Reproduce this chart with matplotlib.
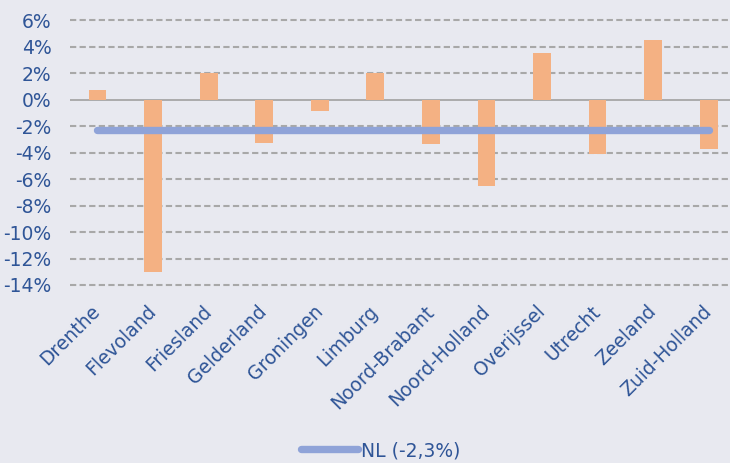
import numpy as np
from matplotlib import pyplot as plt

provinces = ["Drenthe", "Flevoland", "Friesland", "Gelderland", "Groningen", "Limburg",
             "Noord-Brabant", "Noord-Holland", "Overijssel", "Utrecht", "Zeeland", "Zuid-Holland"]
change = [0.76, -13.05, 2.0, -3.23, -0.88, 2.05, -3.33, -6.5, 3.55, -4.1, 4.55, -3.75]
nl_value = -2.3
nl_label = "NL (-2,3%)"
yticks = [6, 4, 2, 0, -2, -4, -6, -8, -10, -12, -14]

bg = "#E8E9F0"
text_col = "#2F5597"

plt.rcParams["font.family"] = ["DejaVu Sans"]

fig = plt.figure(figsize=(7.3, 4.63), dpi=100, facecolor=bg)
ax = fig.add_axes([69.7 / 730, 1 - 285 / 463, 666.8 / 730, (285 - 20.5) / 463])
ax.set_facecolor(bg)

x = np.arange(len(provinces))
ax.bar(x, change, width=0.32, color="#F4B183", zorder=2)
ax.plot(x, [nl_value] * len(x), color="#8FA3D8", lw=5.3, solid_capstyle="round",
        zorder=3, label=nl_label)

# Gridlines
for t in yticks:
    if t == 0:
        ax.axhline(0, color="#A6A6A6", lw=1.3, zorder=1)
    else:
        ax.axhline(t, color="#A8A8A8", lw=1.5, ls=(0, (3, 1.6)), zorder=1, clip_on=False)

ax.set_xlim(-0.5, len(x) - 0.5)
ax.set_ylim(-14, 6)
ax.set_yticks(yticks)
ax.set_yticklabels([f"{t}%" for t in yticks], color=text_col, fontsize=13.5)
ax.set_xticks(x)
ax.set_xticklabels(provinces, rotation=45, ha="right", va="center", rotation_mode="anchor",
                   color=text_col, fontsize=13.5)
ax.tick_params(length=0, axis="y", pad=13)
ax.tick_params(length=0, axis="x", pad=17)
for s in ax.spines.values():
    s.set_visible(False)

fig.legend(loc="lower center", bbox_to_anchor=(381 / 730, -0.03), frameon=False,
           handlelength=3.0, handletextpad=0.2, labelcolor=text_col, fontsize=13.5)

plt.savefig("out.png", facecolor=bg)
